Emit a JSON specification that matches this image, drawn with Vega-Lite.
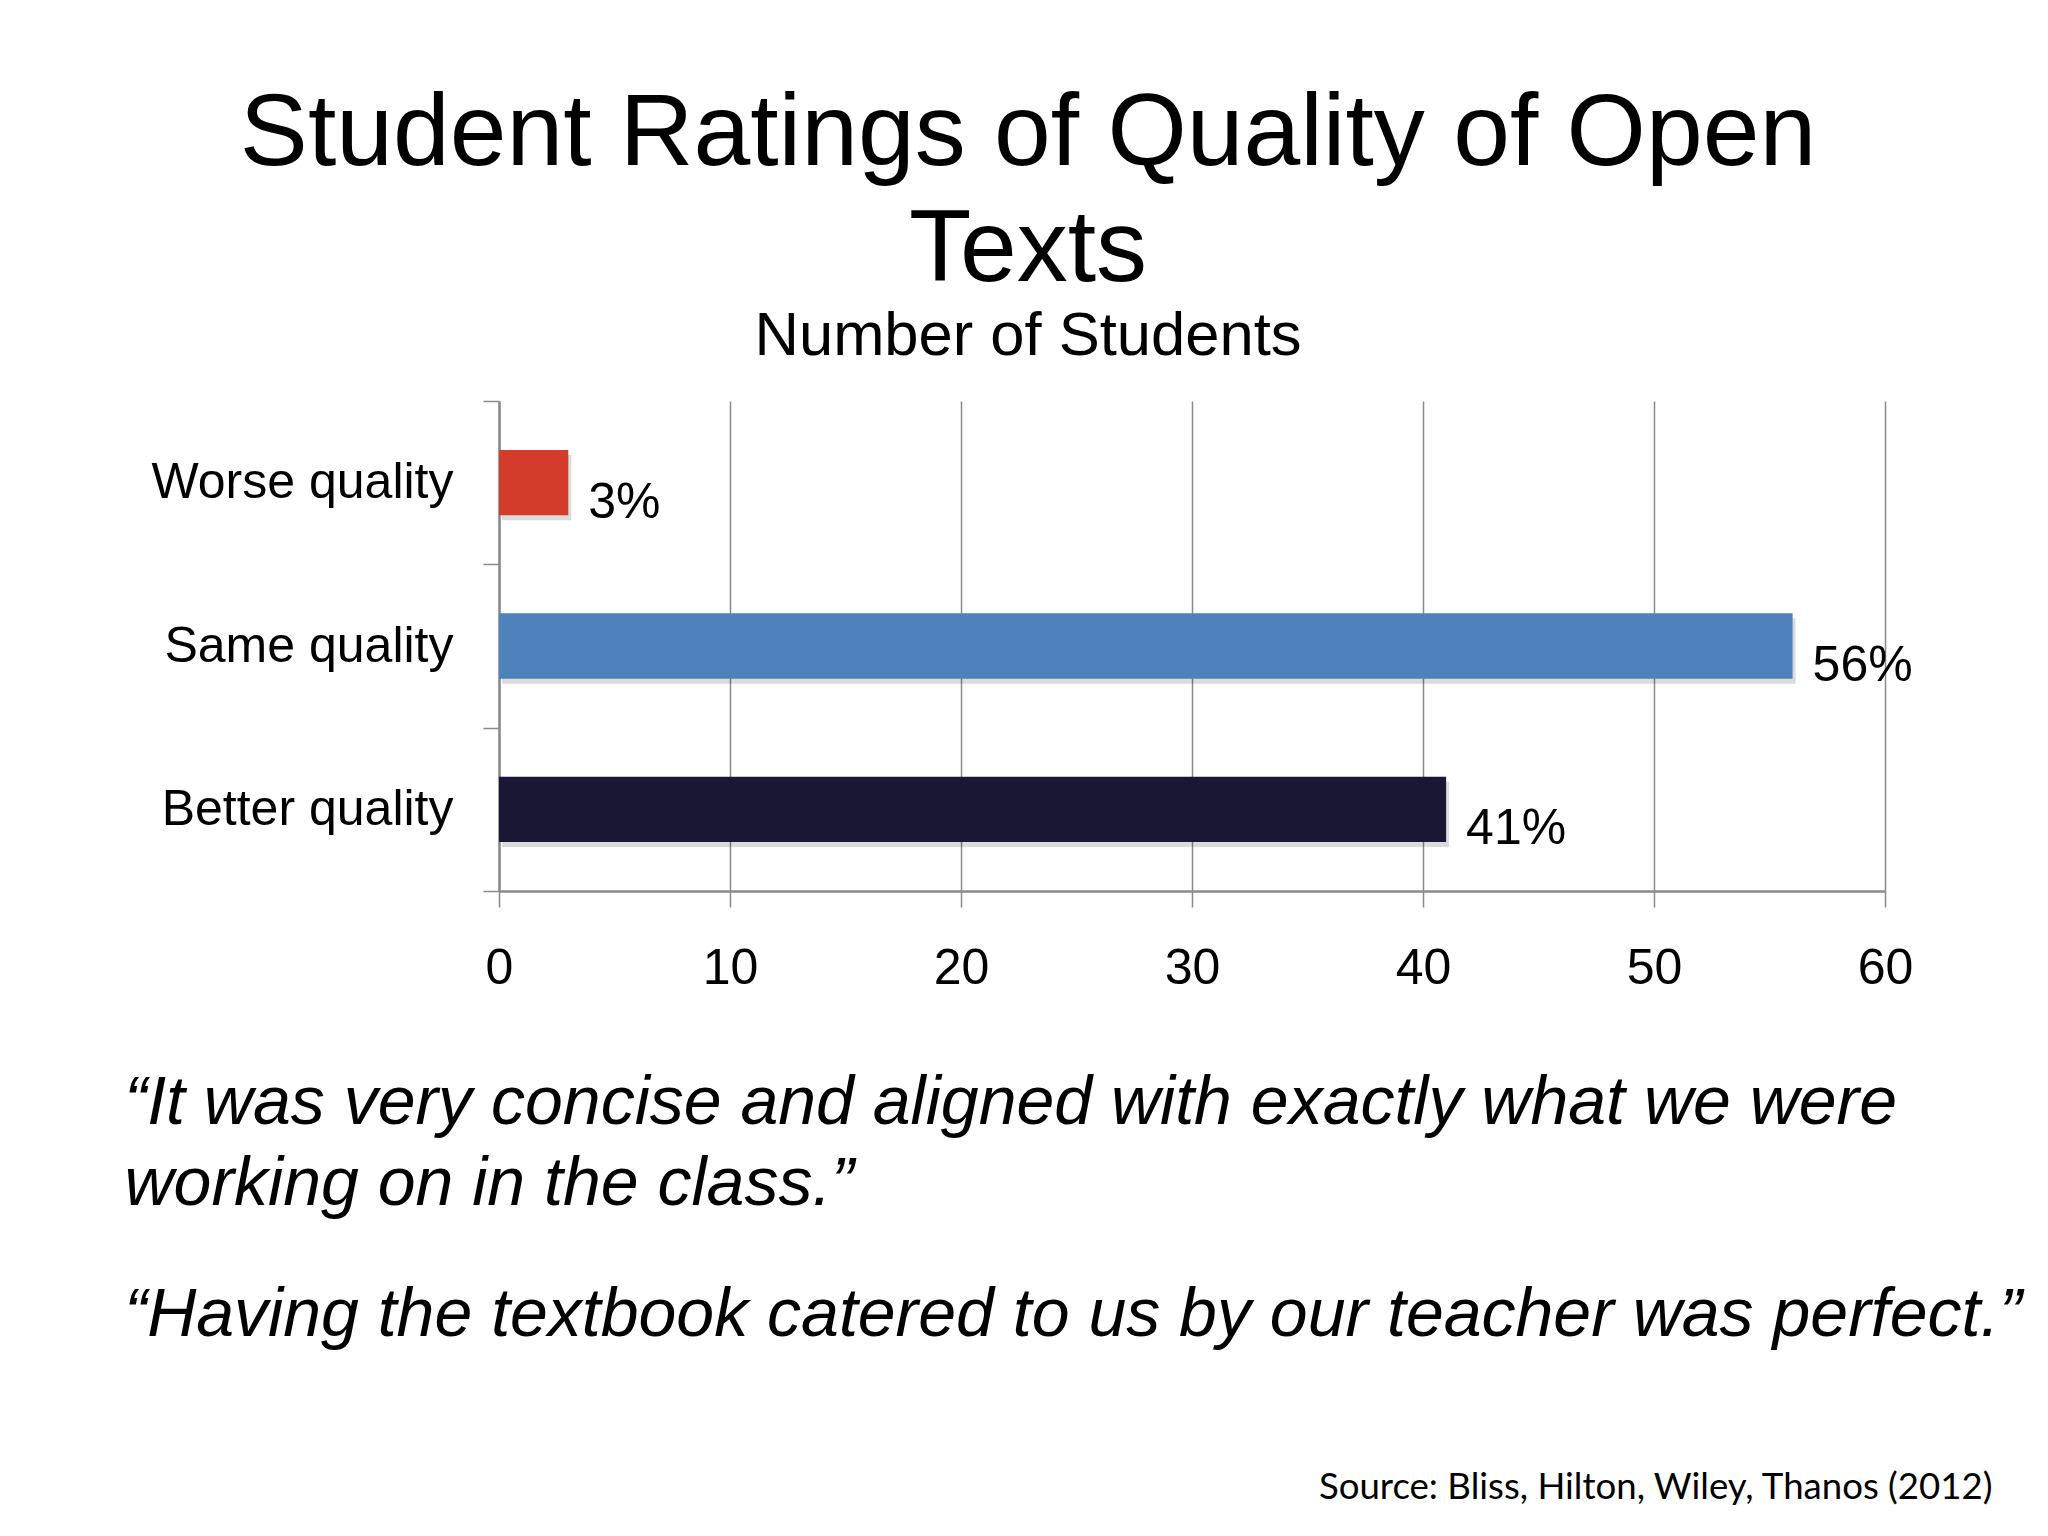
{
  "$schema": "https://vega.github.io/schema/vega-lite/v6.json",
  "description": "Student ratings of quality of open texts",
  "width": 1386,
  "height": 490,
  "autosize": {"type": "none"},
  "padding": {"left": 499, "top": 401, "right": 163, "bottom": 645},
  "background": "white",
  "config": {"view": {"stroke": null}, "font": "Liberation Sans"},
  "title": {
    "text": ["Student Ratings of Quality of Open", "Texts"],
    "subtitle": "Number of Students",
    "font": "Liberation Sans",
    "fontSize": 102,
    "fontWeight": "normal",
    "lineHeight": 116,
    "color": "black",
    "subtitleFont": "Liberation Sans",
    "subtitleFontSize": 61.5,
    "subtitleColor": "black",
    "subtitlePadding": 4,
    "anchor": "middle",
    "dx": -164,
    "offset": 8
  },
  "data": {
    "values": [
      {"rating": "Worse quality", "students": 3, "pct": "3%"},
      {"rating": "Same quality", "students": 56, "pct": "56%"},
      {"rating": "Better quality", "students": 41, "pct": "41%"}
    ]
  },
  "encoding": {
    "x": {
      "field": "students",
      "type": "quantitative",
      "scale": {"domain": [0, 60], "nice": false},
      "axis": {
        "values": [0, 10, 20, 30, 40, 50, 60],
        "grid": true,
        "gridColor": "#8a8a8a",
        "gridWidth": 1.5,
        "domainColor": "#8a8a8a",
        "domainWidth": 2.5,
        "tickColor": "#8a8a8a",
        "tickWidth": 1.5,
        "tickSize": 16,
        "labelFont": "Liberation Sans",
        "labelFontSize": 50,
        "labelColor": "black",
        "labelPadding": 36,
        "labelFlush": false,
        "labelOverlap": false,
        "title": [
          "“It was very concise and aligned with exactly what we were",
          "working on in the class.”"
        ],
        "titleFont": "Liberation Sans",
        "titleFontSize": 68,
        "titleFontStyle": "italic",
        "titleFontWeight": "normal",
        "titleColor": "black",
        "titleAlign": "left",
        "titleBaseline": "alphabetic",
        "titleLineHeight": 81,
        "titleX": -375,
        "titleY": 232
      }
    }
  },
  "layer": [
    {
      "mark": {"type": "bar", "color": "#000000", "opacity": 0.14, "xOffset": 3, "yOffset": 5, "height": {"band": 0.4}},
      "encoding": {
        "y": {
          "field": "rating",
          "type": "nominal",
          "sort": ["Worse quality", "Same quality", "Better quality"],
          "scale": {"paddingInner": 0, "paddingOuter": 0},
          "axis": null
        }
      }
    },
    {
      "mark": {"type": "bar", "height": {"band": 0.4}},
      "encoding": {
        "y": {
          "field": "rating",
          "type": "nominal",
          "sort": ["Worse quality", "Same quality", "Better quality"],
          "scale": {"paddingInner": 0, "paddingOuter": 0},
          "axis": {
            "orient": "left",
            "tickBand": "extent",
            "domainColor": "#8a8a8a",
            "domainWidth": 2.5,
            "tickColor": "#8a8a8a",
            "tickWidth": 1.5,
            "tickSize": 16,
            "labelFont": "Liberation Sans",
            "labelFontSize": 50,
            "labelColor": "black",
            "labelPadding": 30,
            "labelLimit": 0,
            "grid": false,
            "title": "“Having the textbook catered to us by our teacher was perfect.”",
            "titleFont": "Liberation Sans",
            "titleFontSize": 68,
            "titleFontStyle": "italic",
            "titleFontWeight": "normal",
            "titleColor": "black",
            "titleAngle": 0,
            "titleAlign": "left",
            "titleBaseline": "alphabetic",
            "titleLimit": 0,
            "titleX": -375,
            "titleY": 934
          }
        },
        "color": {
          "field": "rating",
          "type": "nominal",
          "scale": {
            "domain": ["Worse quality", "Same quality", "Better quality"],
            "range": ["#d33c2b", "#4f81bd", "#1a1734"]
          },
          "legend": null
        }
      }
    },
    {
      "mark": {
        "type": "text",
        "align": "left",
        "baseline": "middle",
        "dx": 20,
        "dy": 20,
        "font": "Liberation Sans",
        "fontSize": 50,
        "color": "black"
      },
      "encoding": {
        "y": {
          "field": "rating",
          "type": "nominal",
          "sort": ["Worse quality", "Same quality", "Better quality"],
          "scale": {"paddingInner": 0, "paddingOuter": 0},
          "axis": {
            "orient": "right",
            "domain": false,
            "ticks": false,
            "labels": false,
            "grid": false,
            "title": "Source: Bliss, Hilton, Wiley, Thanos (2012)",
            "titleFont": "Lato",
            "titleFontSize": 36.6,
            "titleFontWeight": "normal",
            "titleColor": "black",
            "titleAngle": 0,
            "titleAlign": "right",
            "titleBaseline": "alphabetic",
            "titleLimit": 0,
            "titleX": 107,
            "titleY": 1097
          }
        },
        "text": {"field": "pct", "type": "nominal"}
      }
    }
  ],
  "resolve": {"axis": {"y": "independent"}}
}
